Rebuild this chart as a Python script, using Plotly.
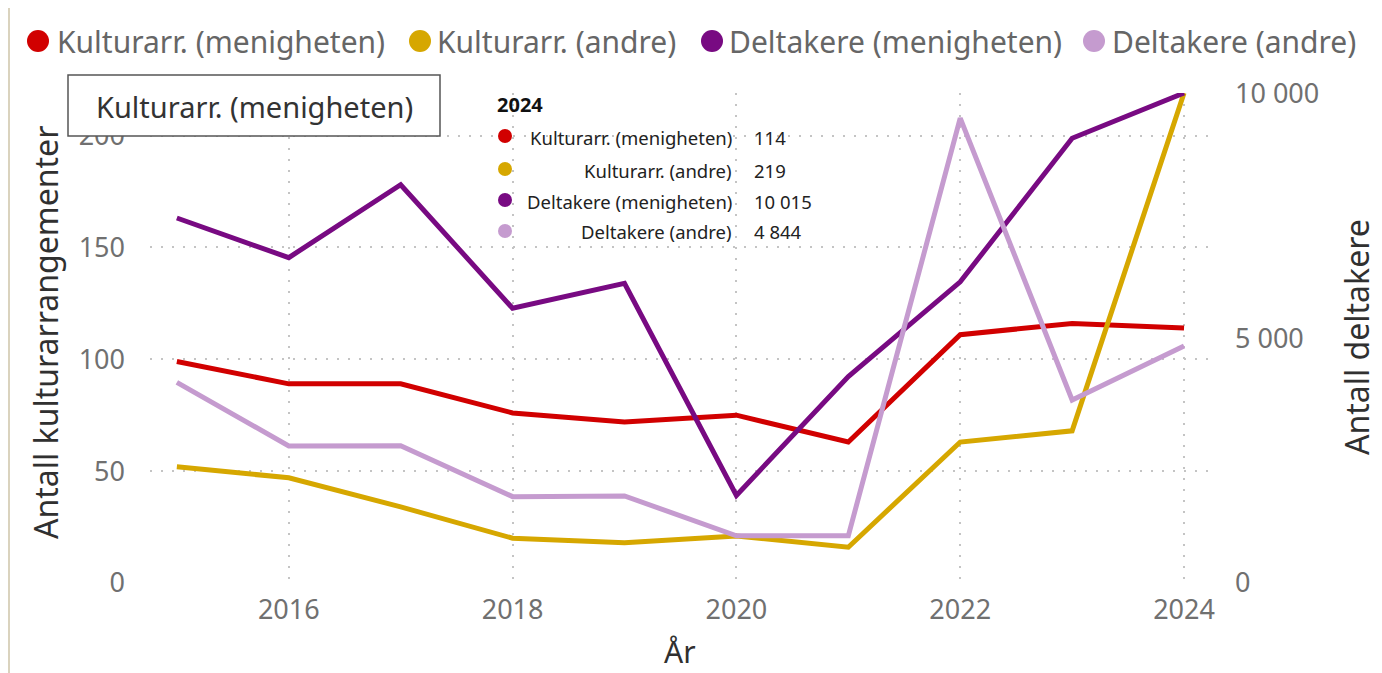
import plotly.graph_objects as go

years = [2015, 2016, 2017, 2018, 2019, 2020, 2021, 2022, 2023, 2024]
kultur_menigheten = [99, 89, 89, 76, 72, 75, 63, 111, 116, 114]
kultur_andre = [52, 47, 34, 20, 18, 21, 16, 63, 68, 219]
deltakere_menigheten = [7460, 6650, 8140, 5615, 6125, 1790, 4220, 6155, 9090, 10015]
deltakere_andre = [4100, 2800, 2805, 1765, 1780, 965, 965, 9500, 3740, 4844]

names = ["Kulturarr. (menigheten)", "Kulturarr. (andre)",
         "Deltakere (menigheten)", "Deltakere (andre)"]
colors = ["#D10000", "#D6A700", "#780A82", "#C59BCF"]
series = [kultur_menigheten, kultur_andre, deltakere_menigheten, deltakere_andre]
axes = ["y", "y", "y2", "y2"]

FONT = "Noto Sans"
W, H = 1382, 673
L, R, T, B = 150, 172, 93, 90
PW, PH = W - L - R, H - T - B
GRID = "#C4C4C4"
TICK = "#707070"
TITLE = "#303030"


def px(x):
    return (x - L) / PW


def py(y):
    return (H - B - y) / PH


fig = go.Figure()
for name, col, vals, ax in zip(names, colors, series, axes):
    fig.add_trace(go.Scatter(x=years, y=vals, mode="lines", name=name,
                             line=dict(color=col, width=5), yaxis=ax,
                             showlegend=False))

fig.update_layout(
    width=W, height=H,
    margin=dict(l=L, r=R, t=T, b=B, autoexpand=False),
    paper_bgcolor="white", plot_bgcolor="white",
    font=dict(family=FONT, color=TICK),
    showlegend=False,
    xaxis=dict(range=[2014.76, 2024.232], tickvals=[2016, 2018, 2020, 2022, 2024],
               showgrid=True, gridcolor=GRID, griddash="2px,9px", gridwidth=1.5,
               zeroline=False, showline=False, ticks="", ticklabelstandoff=8,
               tickfont=dict(size=27, color=TICK)),
    yaxis=dict(range=[0, 219], tickvals=[0, 50, 100, 150, 200],
               showgrid=True, gridcolor=GRID, griddash="2px,9px", gridwidth=1.5,
               zeroline=False, showline=False, ticks="", ticklabelstandoff=24,
               tickfont=dict(size=27, color=TICK)),
    yaxis2=dict(range=[0, 10015], tickvals=[0, 5000, 10000],
                ticktext=["0", "5 000", "10 000"],
                overlaying="y", side="right", showgrid=False, zeroline=False,
                showline=False, ticks="", ticklabelstandoff=24,
                tickfont=dict(size=27, color=TICK)),
)

# axis titles
fig.add_annotation(xref="paper", yref="paper", x=px(45), y=py(333),
                   text="Antall kulturarrangementer", textangle=-90, showarrow=False,
                   font=dict(size=32, color=TITLE), xanchor="center", yanchor="middle")
fig.add_annotation(xref="paper", yref="paper", x=px(1356), y=py(337),
                   text="Antall deltakere", textangle=-90, showarrow=False,
                   font=dict(size=32, color=TITLE), xanchor="center", yanchor="middle")
fig.add_annotation(xref="paper", yref="paper", x=px(680), y=py(651),
                   text="År", showarrow=False,
                   font=dict(size=30, color=TITLE), xanchor="center", yanchor="middle")

# legend (circle + label)
leg_dot_x = [38, 420, 712, 1094]
leg_txt_x = [55, 435, 727, 1110]
for name, col, dx, tx in zip(names, colors, leg_dot_x, leg_txt_x):
    fig.add_shape(type="circle", xref="paper", yref="paper",
                  x0=px(dx - 11), x1=px(dx + 11), y0=py(41 + 11), y1=py(41 - 11),
                  fillcolor=col, line=dict(width=0))
    fig.add_annotation(xref="paper", yref="paper", x=px(tx), y=py(41), text=name,
                       showarrow=False, font=dict(size=30, color="#666"),
                       xanchor="left", yanchor="middle")

# left border line of the visual
fig.add_shape(type="line", xref="paper", yref="paper", x0=px(9), x1=px(9),
              y0=py(8), y1=py(673), line=dict(color="#DAD3BE", width=2))

# tooltip-like label box
fig.add_shape(type="rect", xref="paper", yref="paper", x0=px(68), x1=px(440),
              y0=py(75), y1=py(136), line=dict(color="#555", width=1.5),
              fillcolor="white", layer="above")
fig.add_annotation(xref="paper", yref="paper", x=px(254), y=py(106), text=names[0],
                   showarrow=False, font=dict(size=29, color="#333"),
                   xanchor="center", yanchor="middle")

# hover tooltip for 2024
fig.add_annotation(xref="paper", yref="paper", x=px(495), y=py(104), text="<b>2024</b>",
                   showarrow=False, font=dict(size=20, color="#111"),
                   xanchor="left", yanchor="middle")


def fmt(v):
    return f"{v:,}".replace(",", " ")


row_y = [137, 170, 201, 232]
for name, col, vals, ry in zip(names, colors, series, row_y):
    fig.add_shape(type="circle", xref="paper", yref="paper",
                  x0=px(505 - 7), x1=px(505 + 7), y0=py(ry - 1 + 7), y1=py(ry - 1 - 7),
                  fillcolor=col, line=dict(width=0), layer="above")
    fig.add_annotation(xref="paper", yref="paper", x=px(734), y=py(ry), text=name,
                       showarrow=False, font=dict(size=18.5, color="#222"),
                       xanchor="right", yanchor="middle")
    fig.add_annotation(xref="paper", yref="paper", x=px(752), y=py(ry), text=fmt(vals[-1]),
                       showarrow=False, font=dict(size=18.5, color="#222"),
                       xanchor="left", yanchor="middle")

fig.write_html("out.html", config={"displayModeBar": False},
               post_script="document.body.style.margin='0px';")
